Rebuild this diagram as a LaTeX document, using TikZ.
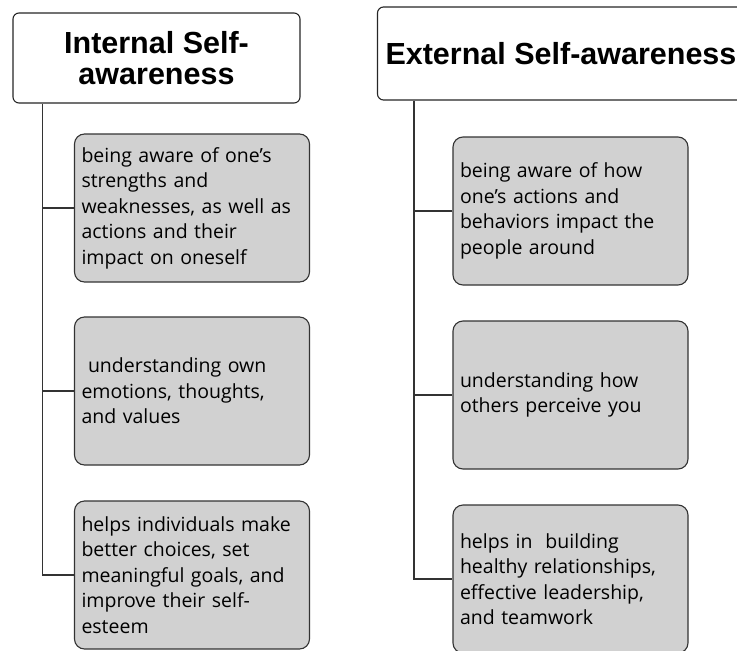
\documentclass[tikz,border=0pt]{standalone}
\usepackage{fontspec}
\setmainfont{Open Sans}
\newfontfamily\headfont{Liberation Sans}
\usetikzlibrary{positioning}

\begin{document}
\begin{tikzpicture}[x=1pt, y=-1pt,
    headbox/.style={draw=black!85, fill=white, rounded corners=6pt, line width=1.1pt,
        align=center, font=\headfont\bfseries\fontsize{30.5}{31}\selectfont},
    itembox/.style={draw=black!80, fill=black!18, rounded corners=10pt, line width=1.1pt,
        minimum height=148pt, text width=221pt, inner xsep=7pt, align=left,
        font=\fontsize{19.5}{25.5}\selectfont},
    branch/.style={draw=black!80, line width=1.2pt}]
    % \draw[help lines, step=50] (0,0) grid (737,651);
    \useasboundingbox (0,0) rectangle (737,651);
    \clip (0,0) rectangle (737,651);

    \node[headbox, minimum width=287pt, minimum height=90pt] (ih) at (156.5,58) {Internal Self-\\awareness};
    \node[headbox, minimum width=367pt, minimum height=93pt] (eh) at (561,53.5) {External Self-awareness};

    \node[itembox] (i1) at (192,208) {being aware of one's\\strengths and\\weaknesses, as well as\\actions and their\\impact on oneself};
    \node[itembox] (i2) at (192,391) {\ understanding own\\emotions, thoughts,\\and values};
    \node[itembox] (i3) at (192,575) {helps individuals make\\better choices, set\\meaningful goals, and\\improve their self-\\esteem};

    \node[itembox] (e1) at (570.5,211) {being aware of how\\one's actions and\\behaviors impact the\\people around};
    \node[itembox] (e2) at (570.5,395) {understanding how\\others perceive you};
    \node[itembox] (e3) at (570.5,579) {helps in\ \ building\\healthy relationships,\\effective leadership,\\and teamwork};

    \coordinate (it) at ([xshift=30pt]ih.south west);
    \coordinate (et) at ([xshift=37pt]eh.south west);
    \draw[branch] (it) |- (i3.west);
    \draw[branch] (i1.west) -- (i1.west -| it);
    \draw[branch] (i2.west) -- (i2.west -| it);
    \draw[branch] (et) |- (e3.west);
    \draw[branch] (e1.west) -- (e1.west -| et);
    \draw[branch] (e2.west) -- (e2.west -| et);
\end{tikzpicture}
\end{document}
